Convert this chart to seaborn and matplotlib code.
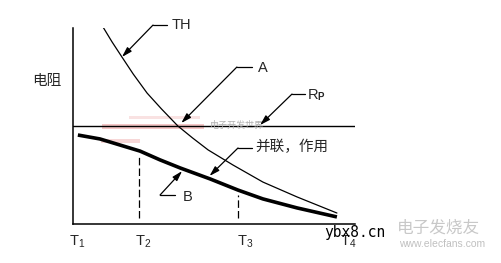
import matplotlib
matplotlib.use("Agg")
import matplotlib.pyplot as plt
import seaborn as sns
import pandas as pd
from matplotlib.patches import Rectangle

# ---------------- data ----------------
th_x = [10.8, 14.0, 17.5, 21.5, 26.4, 31.5, 37.3, 42.5, 48.0, 56.8, 67.4, 79.5, 93.6]
th_y = [100.5, 92.9, 85.2, 76.5, 66.8, 58.7, 50.0, 43.9, 37.8, 30.1, 21.4, 13.8, 5.6]

b_x = [1.9, 9.7, 16.8, 23.9, 31.0, 38.1, 48.7, 58.6, 67.4, 79.5, 93.6]
b_y = [45.4, 43.4, 40.3, 37.2, 32.7, 28.6, 23.0, 17.3, 12.8, 8.2, 3.6]

rp_x = [0, 100]
rp_y = [50.2, 50.2]

dash_x = [23.6, 58.6]
dash_top = [34.2, 14.8]
dash_bottom = [3.0, 3.0]

tick_pos = [1.6, 25.0, 61.0, 97.5]
tick_labels = [r"$\mathregular{T_1}$", r"$\mathregular{T_2}$",
               r"$\mathregular{T_3}$", r"$\mathregular{T_4}$"]

# ---------------- style ----------------
sns.set_style("white")
plt.rcParams["font.family"] = ["Liberation Sans", "Noto Sans CJK SC", "DejaVu Sans"]
plt.rcParams["mathtext.fontset"] = "custom"
plt.rcParams["mathtext.rm"] = "Liberation Sans"
CJK = ["Noto Sans CJK SC", "DejaVu Sans"]

fig = plt.figure(figsize=(5.02, 2.63), dpi=100)
ax = fig.add_axes([72.5 / 502, 39 / 263, 282.5 / 502, 196 / 263])
ax.set_xlim(0, 100)
ax.set_ylim(0, 100)

df_th = pd.DataFrame({"x": th_x, "y": th_y})
df_b = pd.DataFrame({"x": b_x, "y": b_y})
df_rp = pd.DataFrame({"x": rp_x, "y": rp_y})

# faint red watermark streaks
for (x0, y0, w, h, a) in [(10.5, 48.6, 36, 2.6, 0.35), (20, 53.5, 25, 1.5, 0.18), (10, 41.5, 14, 2.0, 0.25)]:
    ax.add_patch(Rectangle((x0, y0), w, h, color="#e06060", alpha=a, lw=0, zorder=1))

sns.lineplot(data=df_rp, x="x", y="y", color="black", lw=1.0, ax=ax, zorder=2)
sns.lineplot(data=df_th, x="x", y="y", color="black", lw=0.9, ax=ax, zorder=3,
             solid_joinstyle="round")
sns.lineplot(data=df_b, x="x", y="y", color="black", lw=2.6, ax=ax, zorder=3,
             solid_capstyle="butt", solid_joinstyle="round")
ax.vlines(dash_x, dash_bottom, dash_top, colors="black", linestyles=(0, (6, 2.5)), lw=0.9)

ax.set_xlabel("")
ax.set_ylabel("")
ax.set_yticks([])
ax.set_xticks(tick_pos, labels=tick_labels)
ax.tick_params(axis="x", length=0, pad=7, labelsize=10.5)
for s in ["top", "right"]:
    ax.spines[s].set_visible(False)
for s in ["left", "bottom"]:
    ax.spines[s].set_color("black")
    ax.spines[s].set_linewidth(1.1)

# y label
ax.text(-9.0, 73, "电阻", family=CJK, fontsize=10.5, ha="center", va="center", clip_on=False)

# leader annotations
ann = [
    ("TH", 35.2, 101.5, 28.5, 33.5, 101.5, 17.5, 85.2, None, 10.5),
    ("A", 65.7, 79.6, 58.2, 63.5, 80.1, 38.5, 51.5, None, 10.5),
    ("并联，作用", 64.6, 39.3, 58.6, 63.5, 38.8, 48.5, 24.5, CJK, 10.5),
    ("B", 39.1, 13.8, 31.0, 36.3, 14.8, 38.8, 27.0, None, 10.5),
]
for txt, tx, ty, ex, ee, ey, gx, gy, fam, fs in ann:
    kw = {"family": fam} if fam else {}
    ax.text(tx, ty, txt, fontsize=fs, ha="left", va="center", clip_on=False, **kw)
    ax.plot([ex, ee], [ey, ey], color="black", lw=0.9, clip_on=False)
    ax.annotate("", xy=(gx, gy), xytext=(ex, ey),
                arrowprops=dict(arrowstyle="-|>,head_length=0.6,head_width=0.18",
                                color="black", lw=0.9, shrinkA=0, shrinkB=0,
                                mutation_scale=10),
                annotation_clip=False)

# Rp label
ax.text(83.4, 65.8, "R", fontsize=10.5, ha="left", va="center", clip_on=False)
ax.text(86.8, 64.8, "P", fontsize=7, ha="left", va="center", clip_on=False, weight="bold")
ax.plot([77.7, 82.3], [66.3, 66.3], color="black", lw=0.9, clip_on=False)
ax.annotate("", xy=(66.4, 50.5), xytext=(77.7, 66.3),
            arrowprops=dict(arrowstyle="-|>,head_length=0.6,head_width=0.18",
                            color="black", lw=0.9, shrinkA=0, shrinkB=0, mutation_scale=10),
            annotation_clip=False)

# faint gray watermark on Rp line
ax.text(48.5, 50.2, "电子开发世界", family=CJK, fontsize=6.5, color="#b0b0b0",
        ha="left", va="center", style="italic", zorder=2)

# bottom-right watermarks
fig.text(355 / 502, 1 - 233 / 263, "ybx8.cn", family="DejaVu Sans Mono", fontsize=10.5,
         ha="center", va="center", color="black", zorder=10)
fig.text(438 / 502, 1 - 228 / 263, "电子发烧友", family=CJK, fontsize=12, style="italic",
         ha="center", va="center", color="#c8c8c8")
fig.text(442 / 502, 1 - 244 / 263, "www.elecfans.com", fontsize=7.5,
         ha="center", va="center", color="#c0c0c0")

fig.savefig("out.png", dpi=100)
